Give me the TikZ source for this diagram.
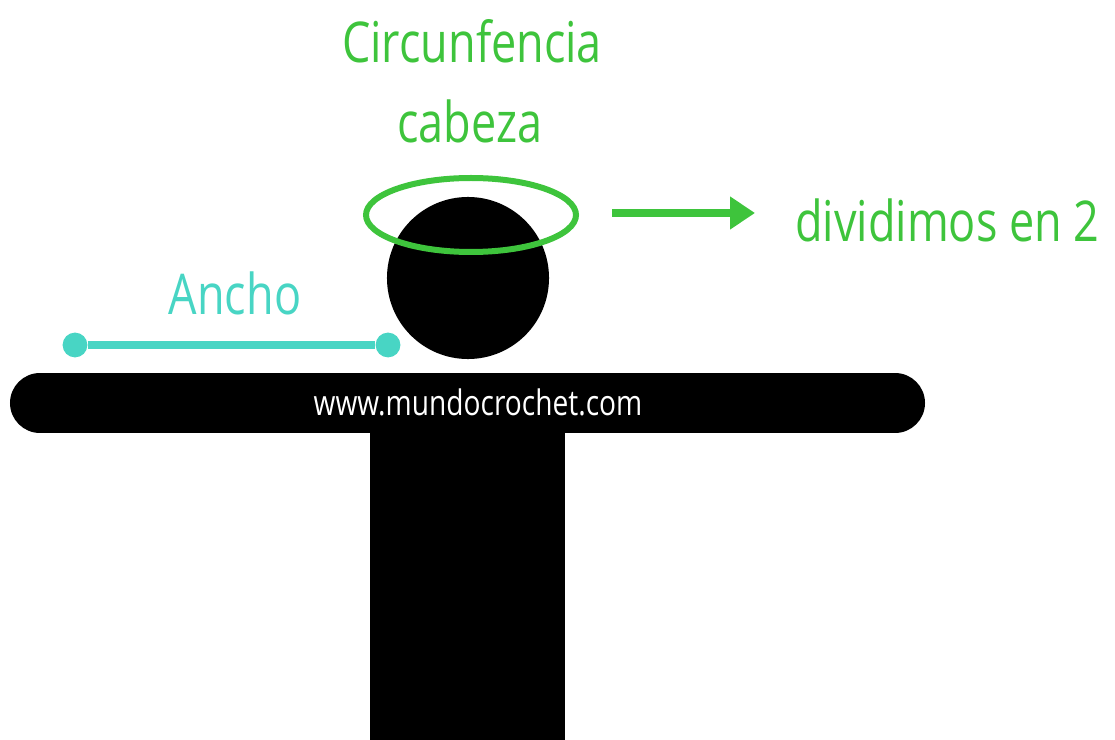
\documentclass[tikz,border=0pt]{standalone}
\usepackage{fontspec}
\usepackage{tikz}
\usetikzlibrary{arrows.meta}
\newfontfamily\mano{Open Sans}
\definecolor{verde}{RGB}{62,196,60}
\definecolor{turquesa}{RGB}{72,213,196}
\pgfdeclarelayer{edgelayer}
\pgfdeclarelayer{nodelayer}
\pgfsetlayers{edgelayer,nodelayer,main}
\tikzstyle{rotulo}=[inner sep=0pt, xscale=0.8, transform shape, font=\mano\fontsize{40}{48}\selectfont]
\tikzstyle{marca}=[inner sep=0pt, xscale=0.8, transform shape, text=white, font=\mano\fontsize{25}{30}\selectfont]
\tikzstyle{cabeza}=[circle, fill=black, inner sep=0pt, minimum size=4.05cm]
\tikzstyle{punto}=[circle, fill=turquesa, inner sep=0pt, minimum size=0.62cm]
\tikzstyle{medida}=[-, draw=turquesa, line width=0.18cm]
\tikzstyle{halo}=[draw=verde, line width=0.15cm]
\tikzstyle{flecha}=[-{Triangle[length=0.62cm, width=0.78cm]}, draw=verde, fill=verde, line width=0.18cm]
\tikzstyle{cuerpo}=[draw=black, line width=1.5cm, line cap=round]

\begin{document}
\begin{tikzpicture}[x=0.025cm, y=-0.025cm]
            \useasboundingbox (0, 0) rectangle (1115, 740);
            \begin{pgfonlayer}{nodelayer}
                \node [style=rotulo, text=verde, anchor=base] (circ) at (472, 63) {Circunfencia};
                \node [style=rotulo, text=verde, anchor=base] (cab) at (470, 143) {cabeza};
                \node [style=rotulo, text=verde, anchor=base west] (div) at (795, 242) {dividimos en 2};
                \node [style=rotulo, text=turquesa, anchor=base] (ancho) at (235, 315) {Ancho};
                \node [style=cabeza] (head) at (468, 278) {};
                \node [style=punto] (izq) at (75, 345) {};
                \node [style=punto] (der) at (388, 345) {};
                \node [style=marca, anchor=base] (web) at (478, 415) {www.mundocrochet.com};
            \end{pgfonlayer}
            \begin{pgfonlayer}{edgelayer}
                \coordinate (brazoI) at (40, 403);
                \coordinate (brazoD) at (895, 403);
                \coordinate (f1) at (612, 213);
                \coordinate (f2) at (755, 213);
                \draw [style=cuerpo] (brazoI) to (brazoD);
                \fill (370, 400) rectangle (565, 740);
                \draw [style=medida] (izq) to (der);
                \draw [style=flecha] (f1) to (f2);
            \end{pgfonlayer}
            \draw [style=halo] (471, 215) ellipse [x radius=105, y radius=37];
        \end{tikzpicture}
\end{document}
